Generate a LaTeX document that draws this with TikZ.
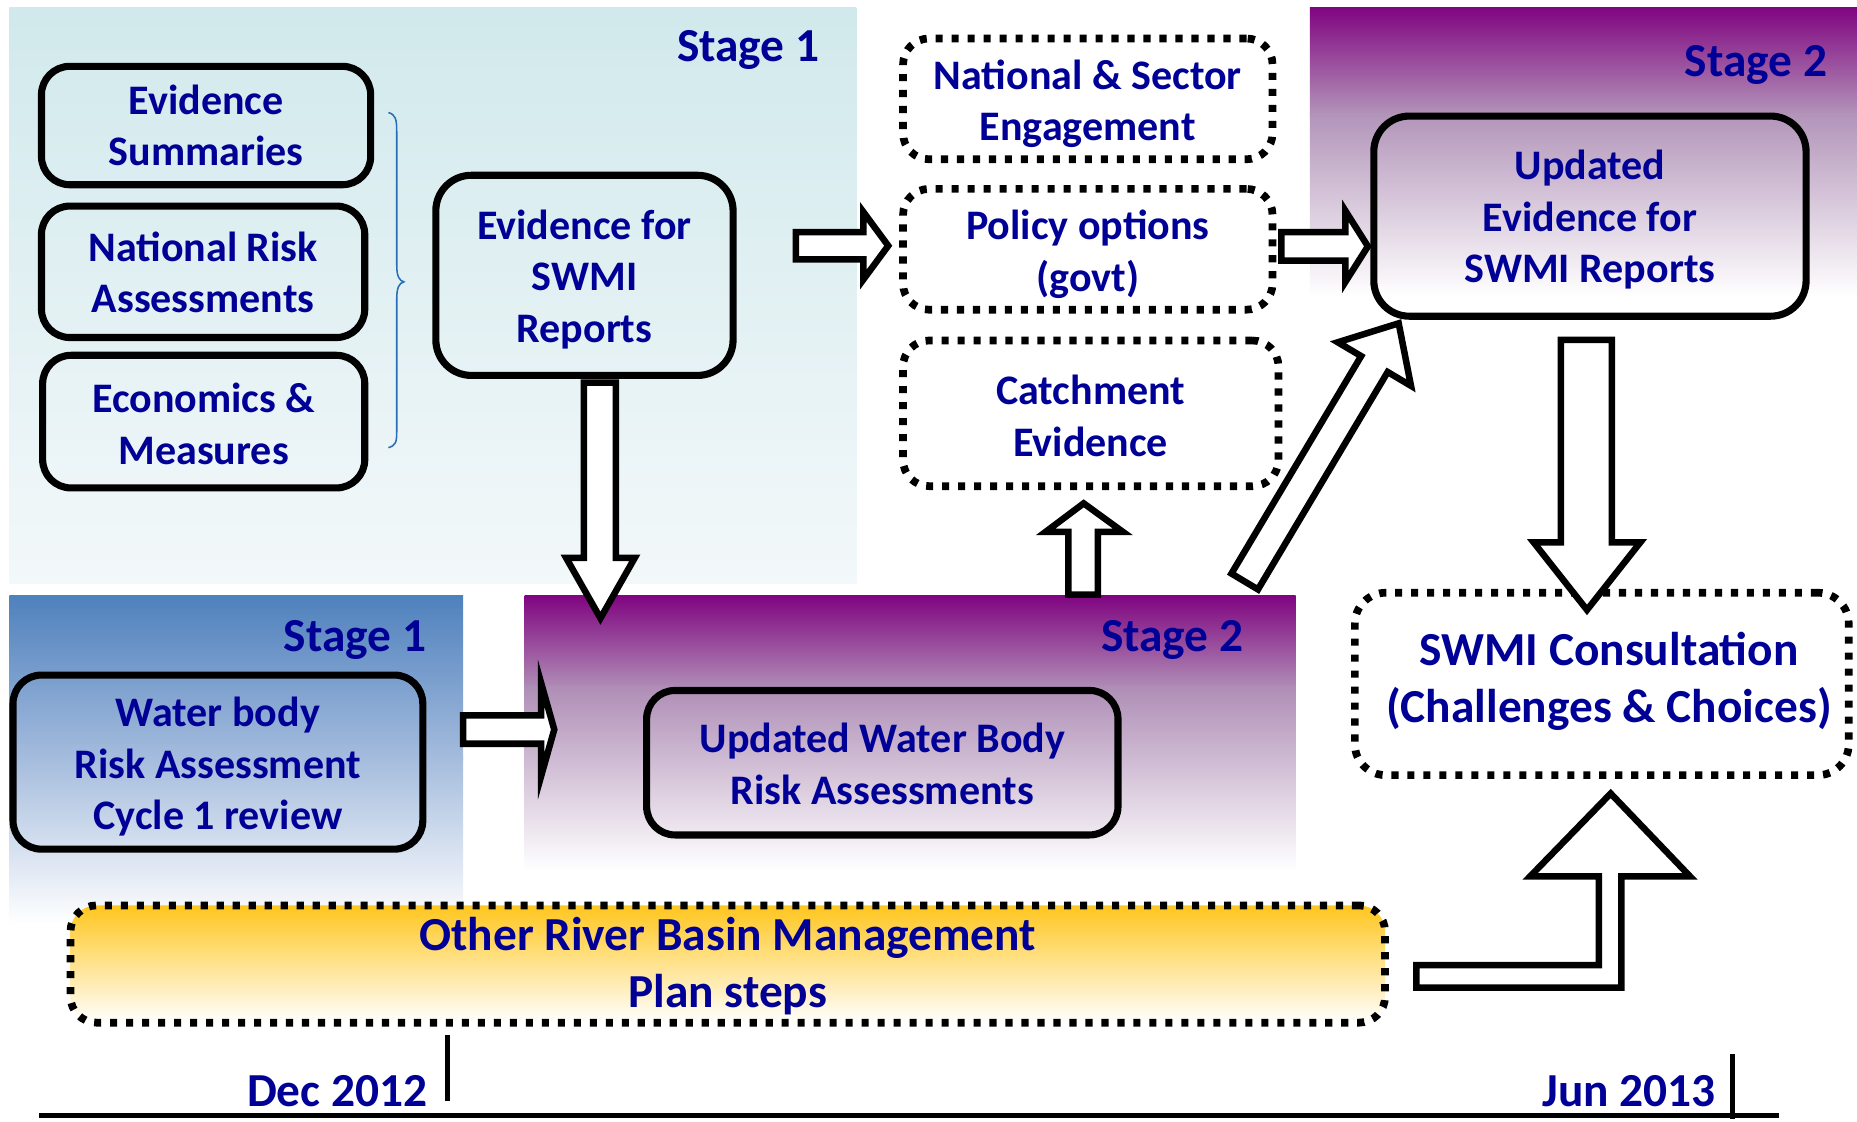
\documentclass[tikz,border=0pt]{standalone}
\usepackage{fontspec}
\setmainfont{Carlito}
\definecolor{navyt}{RGB}{0,0,150}
\definecolor{tealtop}{RGB}{209,233,236}
\definecolor{tealbot}{RGB}{243,248,250}
\definecolor{purp}{RGB}{128,5,128}
\definecolor{purpmid}{RGB}{178,148,185}
\definecolor{purpmidb}{RGB}{175,142,182}
\definecolor{steel}{RGB}{79,129,189}
\definecolor{steelmid}{RGB}{165,188,221}
\definecolor{gold}{RGB}{255,198,30}
\definecolor{goldmid}{RGB}{255,226,150}
\definecolor{bracec}{RGB}{40,110,180}
\begin{document}
\begin{tikzpicture}[x=1pt,y=-1pt,
  txt/.style={text=navyt, font=\fontsize{35.5}{43.5}\selectfont\bfseries, align=center, inner sep=0pt},
  big/.style={text=navyt, font=\fontsize{40}{48}\selectfont\bfseries, align=center, inner sep=0pt},
  solidbox/.style={inner sep=0pt, draw=black, line width=6pt, rounded corners=24pt},
  dotbox/.style={inner sep=0pt, draw=black, line width=6.5pt, dash pattern=on 6pt off 7.5pt, rounded corners=22pt},
  barrow/.style={draw=black, fill=white, line width=5.5pt, line join=miter},
  tickline/.style={draw=black, line width=4pt}]
\useasboundingbox (0,0) rectangle (1568,947);

% backgrounds
\shade[top color=tealtop, bottom color=tealbot] (8,6) rectangle (723,493);
\shade[top color=purp, bottom color=purpmid] (1106,6) rectangle (1568,97);
\shade[top color=purpmid, bottom color=white] (1106,96) rectangle (1568,250);
\shade[top color=steel, bottom color=steelmid] (8,503) rectangle (391,641);
\shade[top color=steelmid, bottom color=white] (8,640) rectangle (391,780);
\shade[top color=purp, bottom color=purpmidb] (443,503) rectangle (1094,581);
\shade[top color=purpmidb, bottom color=white] (443,580) rectangle (1094,735);

% stage labels
\node[big, anchor=base east] (s1a) at (692,52) {Stage 1};
\node[big, anchor=base east] (s2a) at (1543,65) {Stage 2};
\node[big, anchor=base east] (s1b) at (360,550) {Stage 1};
\node[big, anchor=base east] (s2b) at (1050,550) {Stage 2};

% boxes
\node[solidbox, minimum width=278pt, minimum height=100pt,
  label={[txt]center:{Evidence\\Summaries}}] (es) at (174,106) {};
\node[solidbox, minimum width=273pt, minimum height=111pt,
  label={[txt,yshift=-0.5pt]center:{National Risk\\Assessments}}] (nra) at (171.5,229.5) {};
\node[solidbox, minimum width=272pt, minimum height=112pt,
  label={[txt,yshift=-2pt]center:{Economics \&\\Measures}}] (em) at (172,356) {};
\node[solidbox, rounded corners=30pt, minimum width=251pt, minimum height=169pt,
  label={[txt,yshift=-3.5pt]center:{Evidence for\\SWMI\\Reports}}] (efs) at (493.5,232.5) {};
\node[dotbox, minimum width=312pt, minimum height=102pt,
  label={[txt,yshift=-4pt]center:{National \& Sector\\Engagement}}] (nse) at (918.5,83.5) {};
\node[dotbox, minimum width=312pt, minimum height=102pt,
  label={[txt,yshift=-4pt]center:{Policy options\\(govt)}}] (po) at (918.5,210.5) {};
\node[dotbox, minimum width=317pt, minimum height=123pt,
  label={[txt,yshift=-2pt]center:{Catchment\\Evidence}}] (ce) at (921,349) {};
\node[solidbox, rounded corners=30pt, minimum width=365pt, minimum height=169pt,
  label={[txt,yshift=-3pt]center:{Updated\\Evidence for\\SWMI Reports}}] (uefs) at (1342.5,182.5) {};
\node[solidbox, minimum width=346pt, minimum height=147pt,
  label={[txt,yshift=-4pt]center:{Water body\\Risk Assessment\\Cycle 1 review}}] (wb) at (184,643.5) {};
\node[solidbox, minimum width=398pt, minimum height=122pt,
  label={[txt,yshift=-1pt]center:{Updated Water Body\\Risk Assessments}}] (uwb) at (745,644) {};
\node[dotbox, rounded corners=26pt, minimum width=417pt, minimum height=154pt,
  label={[big,yshift=2pt,xshift=6pt]center:{SWMI Consultation\\(Challenges \& Choices)}}] (swmi) at (1352.5,577.5) {};
\node[dotbox, top color=gold, middle color=goldmid, bottom color=white, minimum width=1110pt, minimum height=99pt,
  label={[big,yshift=-2pt]center:{Other River Basin Management\\Plan steps}}] (orb) at (614.5,814) {};

% brace
\draw[bracec, line width=1.3pt] (328,95) .. controls (334,97) and (335,100) .. (335,112) -- (335,224) .. controls (335,233) and (337,237) .. (341,238) .. controls (337,239) and (335,243) .. (335,252) -- (335,364) .. controls (335,374) and (334,376) .. (328,378);

% block arrows
\draw[barrow] (672,196) -- (729,196) -- (729,179) -- (750,207.5) -- (729,236) -- (729,219) -- (672,219) -- cycle;
\draw[barrow] (1082,196) -- (1136,196) -- (1136,178) -- (1155,208) -- (1136,238) -- (1136,220) -- (1082,220) -- cycle;
\draw[barrow] (493,323) -- (520,323) -- (520,471) -- (536,471) -- (507,522) -- (478,471) -- (493,471) -- cycle;
\draw[barrow] (391,604) -- (457,604) -- (457,577) -- (468,616) -- (457,655) -- (457,628) -- (391,628) -- cycle;
\draw[barrow] (902,502) -- (902,449) -- (883,449) -- (915,425) -- (948,449) -- (927,449) -- (927,502) -- cycle;
\draw[barrow] (1062.2,497.7) -- (1039.8,484.3) -- (1149.3,300.7) -- (1129.6,289.0) -- (1181,273) -- (1191.4,325.8) -- (1171.7,314.1) -- cycle;
\draw[barrow] (1318,287) -- (1361,287) -- (1361,458) -- (1385,458) -- (1340,515) -- (1295,458) -- (1318,458) -- cycle;
\draw[barrow] (1196,815) -- (1350,815) -- (1350,740) -- (1292,740) -- (1360,670) -- (1427,740) -- (1369,740) -- (1369,834) -- (1196,834) -- cycle;

% timeline
\coordinate (tl0) at (33,942);
\coordinate (tl1) at (1502,942);
\coordinate (tdA) at (378,874);
\coordinate (tdB) at (378,930);
\coordinate (tjA) at (1463,890);
\coordinate (tjB) at (1463,945);
\draw[tickline] (tl0) -- (tl1);
\draw[tickline] (tdA) -- (tdB);
\draw[tickline] (tjA) -- (tjB);
\node[big, anchor=base east] (dec) at (361,934) {Dec 2012};
\node[big, anchor=base east] (jun) at (1449,934) {Jun 2013};
\end{tikzpicture}
\end{document}
